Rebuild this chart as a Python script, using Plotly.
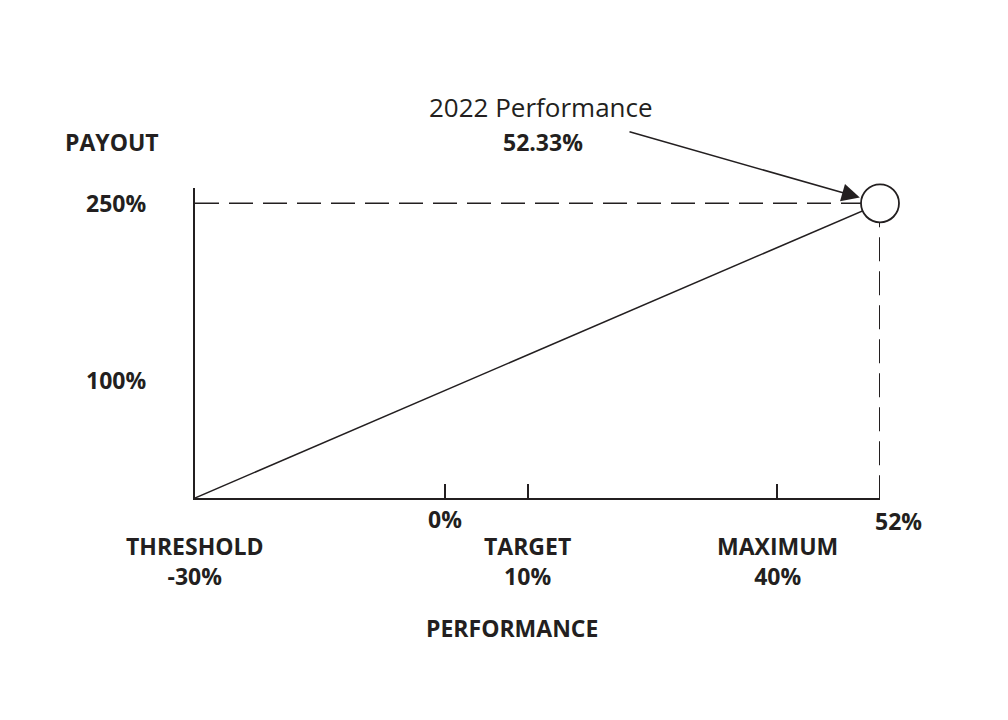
import plotly.graph_objects as go

# ---- data ----
level_labels = ["THRESHOLD", "TARGET", "MAXIMUM"]
level_values = [-30, 10, 40]
tick_values = [0, 10, 40]
axis_end_value = 52
actual_perf = 52.33
actual_label = "2022 Performance"
line_perf = [-30, 52.33]
line_payout = [0, 250]
payout_labels = [250, 100]
max_payout = 250

INK = "#231f20"
FONT = "Open Sans"

fig = go.Figure()

# dashed reference lines
fig.add_trace(go.Scatter(x=[line_perf[0], actual_perf], y=[max_payout, max_payout],
                         mode="lines", line=dict(color=INK, width=1.6, dash="24px,10px"),
                         hoverinfo="skip", showlegend=False, cliponaxis=False))
fig.add_trace(go.Scatter(x=[actual_perf, actual_perf], y=[max_payout, 0],
                         mode="lines", line=dict(color=INK, width=2, dash="24px,10px"),
                         hoverinfo="skip", showlegend=False, cliponaxis=False))
# payout curve
fig.add_trace(go.Scatter(x=line_perf, y=line_payout, mode="lines",
                         line=dict(color=INK, width=1.5), hoverinfo="skip",
                         showlegend=False, cliponaxis=False))
# actual performance point
fig.add_trace(go.Scatter(x=[actual_perf], y=[max_payout], mode="markers",
                         marker=dict(size=38, color="white", line=dict(color=INK, width=1.8)),
                         hoverinfo="skip", showlegend=False, cliponaxis=False))

ann = []
bold = dict(family=FONT, size=23, color=INK)
reg = dict(family=FONT, size=26, color=INK)

# x labels
ann.append(dict(x=0, xref="x", y=0, yref="paper", yshift=-21, text="<b>0%</b>",
                xanchor="center", yanchor="middle", showarrow=False, font=bold))
ann.append(dict(x=axis_end_value, xref="x", y=0, yref="paper", yshift=-23, xshift=21,
                text="<b>%d%%</b>" % axis_end_value, xanchor="center", yanchor="middle",
                showarrow=False, font=bold))
for lab, v in zip(level_labels, level_values):
    ann.append(dict(x=v, xref="x", y=0, yref="paper", yshift=-63,
                    text="<b>%s</b><br><b>%d%%</b>" % (lab, v),
                    xanchor="center", yanchor="middle", showarrow=False, font=bold))
ann.append(dict(x=0.4628, xref="paper", y=0, yref="paper", yshift=-130,
                text="<b>PERFORMANCE</b>", xanchor="center", yanchor="middle",
                showarrow=False, font=bold))

# y labels
for p in payout_labels:
    ann.append(dict(x=0, xref="paper", xshift=-79, y=p, yref="y", text="<b>%d%%</b>" % p,
                    xanchor="center", yanchor="middle", showarrow=False, font=bold))
ann.append(dict(x=0, xref="paper", xshift=-83, y=1, yref="paper", yshift=46,
                text="<b>PAYOUT</b>", xanchor="center", yanchor="middle",
                showarrow=False, font=bold))

# callout
ann.append(dict(x=0.505, xref="paper", y=1, yref="paper", yshift=81,
                text=actual_label, xanchor="center", yanchor="middle",
                showarrow=False, font=reg))
ann.append(dict(x=0.508, xref="paper", y=1, yref="paper", yshift=46,
                text="<b>%.2f%%</b>" % actual_perf, xanchor="center", yanchor="middle",
                showarrow=False, font=bold))
ann.append(dict(x=actual_perf, xref="x", y=max_payout, yref="y", text="",
                showarrow=True, axref="pixel", ayref="pixel", ax=-252, ay=-72,
                arrowhead=2, arrowsize=2.4, arrowwidth=1.5, arrowcolor=INK, standoff=21))

fig.update_layout(
    width=1000, height=712,
    margin=dict(l=187, r=128, t=180, b=222),
    paper_bgcolor="white", plot_bgcolor="white",
    annotations=ann,
    xaxis=dict(range=[line_perf[0], actual_perf], showgrid=False, zeroline=False,
               showline=True, linecolor=INK, linewidth=1.6,
               tickvals=tick_values, ticks="inside", ticklen=14, tickwidth=1.6,
               tickcolor=INK, showticklabels=False, fixedrange=True),
    yaxis=dict(range=[0, 263], showgrid=False, zeroline=False,
               showline=True, linecolor=INK, linewidth=1.6,
               showticklabels=False, ticks="", fixedrange=True),
)

fig.write_html("out.html")
